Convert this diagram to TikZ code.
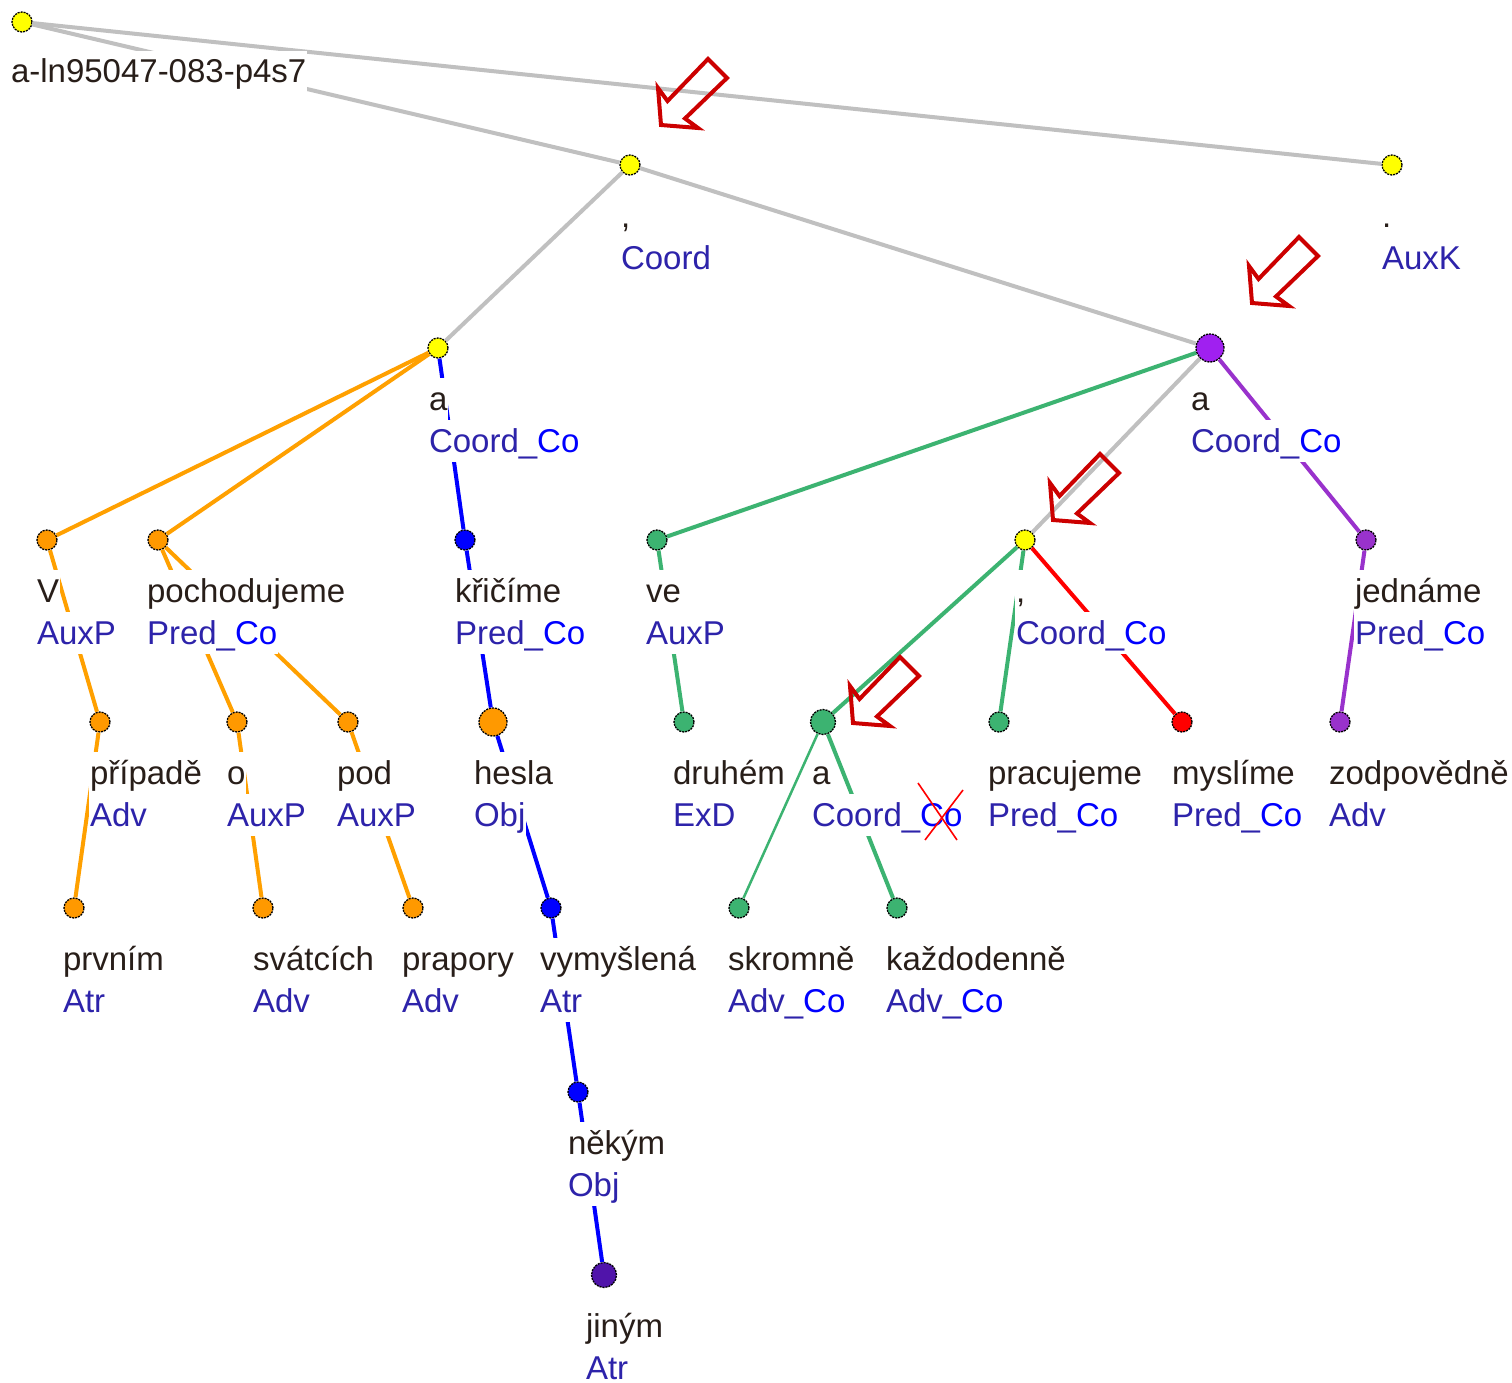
\documentclass[tikz,border=0pt]{standalone}
\usepackage{fontspec}
\setmainfont{Liberation Sans}
\definecolor{cgray}{RGB}{192,192,192}
\definecolor{cyel}{RGB}{255,255,0}
\definecolor{corg}{RGB}{255,160,0}
\definecolor{corgn}{RGB}{255,153,0}
\definecolor{cblue}{RGB}{0,0,255}
\definecolor{cgreen}{RGB}{60,179,113}
\definecolor{cpurp}{RGB}{153,50,204}
\definecolor{cpurpL}{RGB}{160,32,240}
\definecolor{cred}{RGB}{255,0,0}
\definecolor{cindigo}{RGB}{80,20,170}
\definecolor{cword}{RGB}{40,30,25}
\definecolor{cfun}{RGB}{45,35,170}
\definecolor{cco}{RGB}{0,0,255}
\definecolor{carrow}{RGB}{204,0,0}
\newcommand\fco[1]{#1\_{\color{cco}Co}}
\newcommand\tlab[5]{%
  \node[wlab] (#1w) at (#2,#3+62) {#4};
  \node[flab] (#1f) at (#2,#3+104) {#5};}
\begin{document}
\begin{tikzpicture}[x=1pt,y=-1pt,
  sn/.style={circle,inner sep=0pt,minimum size=20pt,draw=black,line width=1.3pt,dash pattern=on 2pt off 1pt},
  mn/.style={sn,minimum size=25pt},
  ln/.style={sn,minimum size=28pt},
  eg/.style={line width=4pt,#1},
  wlab/.style={anchor=base west,fill=white,inner xsep=1pt,inner ysep=0pt,outer sep=0pt,
    text height=32pt,text depth=10pt,text=cword,font=\fontsize{33}{40}\selectfont},
  flab/.style={wlab,text=cfun},
  redarrow/.style={draw=carrow,line width=4pt,line join=miter},
  xline/.style={draw=cred,line width=1.6pt}]
\useasboundingbox (0,0) rectangle (1512,1383);
\fill[white] (0,0) rectangle (1512,1383);
% tree nodes
\node[sn,fill=cyel] (root) at (22,22) {};
\node[sn,fill=cyel] (c1) at (630,165) {};
\node[sn,fill=cyel] (auxk) at (1392,165) {};
\node[sn,fill=cyel] (a1) at (438,348) {};
\node[ln,fill=cpurpL] (a2) at (1210,348) {};
\node[sn,fill=corgn] (V) at (47,540) {};
\node[sn,fill=corgn] (poch) at (158,540) {};
\node[sn,fill=cblue] (kric) at (465,540) {};
\node[sn,fill=cgreen] (ve) at (657,540) {};
\node[sn,fill=cyel] (c2) at (1025,540) {};
\node[sn,fill=cpurp] (jedn) at (1366,540) {};
\node[sn,fill=corgn] (prip) at (100,722) {};
\node[sn,fill=corgn] (o) at (237,722) {};
\node[sn,fill=corgn] (pod) at (348,722) {};
\node[ln,fill=corgn] (hesla) at (493,722) {};
\node[sn,fill=cgreen] (druh) at (684,722) {};
\node[mn,fill=cgreen] (a3) at (823,722) {};
\node[sn,fill=cgreen] (prac) at (999,722) {};
\node[sn,fill=cred] (mysl) at (1182,722) {};
\node[sn,fill=cpurp] (zodp) at (1340,722) {};
\node[sn,fill=corgn] (prvn) at (74,908) {};
\node[sn,fill=corgn] (svat) at (263,908) {};
\node[sn,fill=corgn] (prap) at (413,908) {};
\node[sn,fill=cblue] (vymy) at (551,908) {};
\node[sn,fill=cgreen] (skro) at (739,908) {};
\node[sn,fill=cgreen] (kazd) at (897,908) {};
\node[sn,fill=cblue] (nek) at (578,1092) {};
\node[mn,fill=cindigo] (jin) at (604,1275) {};
% edges
\draw[eg=cgray] (root) -- (c1);
\draw[eg=cgray] (root) -- (auxk);
\draw[eg=cgray] (c1) -- (a1);
\draw[eg=cgray] (c1) -- (a2);
\draw[eg=corg] (a1) -- (V);
\draw[eg=corg] (a1) -- (poch);
\draw[eg=cblue] (a1) -- (kric);
\draw[eg=cgreen] (a2) -- (ve);
\draw[eg=cgray] (a2) -- (c2);
\draw[eg=cpurp] (a2) -- (jedn);
\draw[eg=corg] (V) -- (prip);
\draw[eg=corg] (poch) -- (o);
\draw[eg=corg] (poch) -- (pod);
\draw[eg=cblue] (kric) -- (hesla);
\draw[eg=cgreen] (ve) -- (druh);
\draw[eg=cgreen] (c2) -- (a3);
\draw[eg=cgreen] (c2) -- (prac);
\draw[eg=cred] (c2) -- (mysl);
\draw[eg=cpurp] (jedn) -- (zodp);
\draw[eg=corg] (prip) -- (prvn);
\draw[eg=corg] (o) -- (svat);
\draw[eg=corg] (pod) -- (prap);
\draw[eg=cblue] (hesla) -- (vymy);
\draw[eg=cgreen,line width=2.5pt] (a3) -- (skro);
\draw[eg=cgreen] (a3) -- (kazd);
\draw[eg=cblue] (vymy) -- (nek);
\draw[eg=cblue] (nek) -- (jin);
% labels
\node[wlab] (rootw) at (10,83) {a-ln95047-083-p4s7};
\tlab{c1}{620}{165}{,}{Coord}
\tlab{auxk}{1381}{165}{.}{AuxK}
\tlab{a1}{428}{348}{a}{\fco{Coord}}
\tlab{a2}{1190}{348}{a}{\fco{Coord}}
\tlab{V}{36}{540}{V}{AuxP}
\tlab{poch}{146}{540}{pochodujeme}{\fco{Pred}}
\tlab{kric}{454}{540}{křičíme}{\fco{Pred}}
\tlab{ve}{645}{540}{ve}{AuxP}
\tlab{c2}{1015}{540}{,}{\fco{Coord}}
\tlab{jedn}{1354}{540}{jednáme}{\fco{Pred}}
\tlab{prip}{89}{722}{případě}{Adv}
\tlab{o}{226}{722}{o}{AuxP}
\tlab{pod}{336}{722}{pod}{AuxP}
\tlab{hesla}{473}{722}{hesla}{Obj}
\tlab{druh}{672}{722}{druhém}{ExD}
\tlab{a3}{811}{722}{a}{\fco{Coord}}
\tlab{prac}{987}{722}{pracujeme}{\fco{Pred}}
\tlab{mysl}{1171}{722}{myslíme}{\fco{Pred}}
\tlab{zodp}{1328}{722}{zodpovědně}{Adv}
\tlab{prvn}{62}{908}{prvním}{Atr}
\tlab{svat}{252}{908}{svátcích}{Adv}
\tlab{prap}{401}{908}{prapory}{Adv}
\tlab{vymy}{539}{908}{vymyšlená}{Atr}
\tlab{skro}{727}{908}{skromně}{\fco{Adv}}
\tlab{kazd}{885}{908}{každodenně}{\fco{Adv}}
\tlab{nek}{567}{1092}{někým}{Obj}
\tlab{jin}{585}{1275}{jiným}{Atr}
% red cross
\draw[xline] (918,783) -- (957,840);
\draw[xline] (963,790) -- (925,840);
% red hollow arrows
\foreach \tx/\ty in {661/125,1252/303,1053/520,853/723}{
  \draw[redarrow,shift={(\tx,\ty)}] (0,0) -- (-3,-37) -- (6.5,-24) -- (47,-66) -- (66,-47) -- (24,-6.5) -- (37,3) -- cycle;
}
\end{tikzpicture}
\end{document}
